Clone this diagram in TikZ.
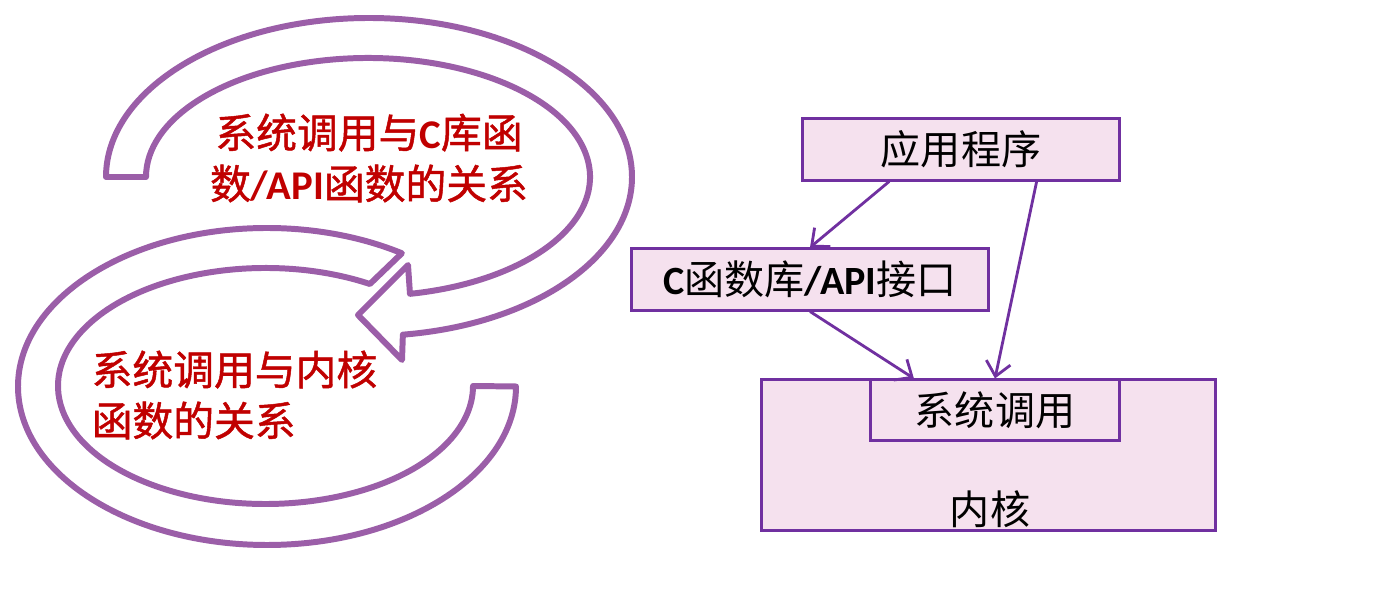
\documentclass[tikz,border=0pt]{standalone}
\usepackage{fontspec}
\usetikzlibrary{arrows.meta,calc}
\newfontfamily\cjk{Noto Sans CJK SC}
\newfontfamily\cjkheavy[FakeBold=1.2]{Noto Sans CJK SC}
\newfontfamily\lat{Carlito}
\newcommand\ltn[1]{{\lat\bfseries #1}}
\definecolor{band}{RGB}{155,94,168}
\definecolor{edge}{RGB}{112,48,160}
\definecolor{boxfill}{RGB}{245,225,238}
\definecolor{notecol}{RGB}{192,0,0}

\begin{document}
\begin{tikzpicture}[x=0.01cm,y=-0.01cm,
  loop/.style={draw=band,line width=1.7pt,line join=round,fill=white},
  box/.style={draw=edge,line width=0.85pt,fill=boxfill,inner sep=0pt,
    font=\cjk\fontsize{11.4pt}{14pt}\selectfont},
  link/.style={draw=edge,line width=0.8pt,-{Straight Barb[length=4pt,width=7pt]}},
  note/.style={text=notecol,inner sep=0pt,
    font=\cjkheavy\fontsize{11.6pt}{14.5pt}\selectfont}]
\useasboundingbox (0,0) rectangle (1391,613);

% lower band: an open elliptic ring, both ends cut
\draw[loop] ($(267,386.5)+(0:249 and 158.5)$)
    arc[start angle=0,end angle=302.8,x radius=249,y radius=158.5]
  -- ($(265.5,386)+(300.2:207.5 and 118)$)
    arc[start angle=300.2,end angle=0,x radius=207.5,y radius=118]
  -- cycle;

% upper band, ending in an arrowhead
\draw[loop] ($(369,177)+(180:263 and 159)$)
    arc[start angle=180,end angle=442.6,x radius=263,y radius=159]
  -- (402,360) -- (358,315) -- (408,265)
  -- ($(368,177)+(79.1:222 and 119)$)
    arc[start angle=439.1,end angle=180,x radius=222,y radius=119]
  -- cycle;

\node[note,align=center] (upnote) at (369,158)
  {系统调用与\ltn{C}库函\\[0pt]数\ltn{/API}函数的关系};
\node[note,align=left,anchor=west] (lownote) at (91,395)
  {系统调用与内核\\[0pt]函数的关系};

% layered view of the calls
\node[box,minimum width=3.16cm,minimum height=0.61cm] (app) at (961,149.5) {应用程序};
\node[box,minimum width=3.56cm,minimum height=0.61cm] (lib) at (810,279.5)
  {\ltn{C}函数库\ltn{/API}接口};
\node[box,minimum width=4.53cm,minimum height=1.50cm] (kern) at (988.5,455) {};
\node[box,minimum width=2.48cm,minimum height=0.60cm] (sys) at (995,410) {系统调用};
\node[font=\cjk\fontsize{11.4pt}{14pt}\selectfont,inner sep=0pt] (kernlabel) at (990,509) {内核};

\draw[link] ($(app.south west)!0.275!(app.south east)$) -- (lib.north);
\draw[link] ($(app.south west)!0.737!(app.south east)$) -- (sys.north);
\draw[link] (lib.south) -- ($(sys.north west)!0.177!(sys.north east)$);
\end{tikzpicture}
\end{document}
